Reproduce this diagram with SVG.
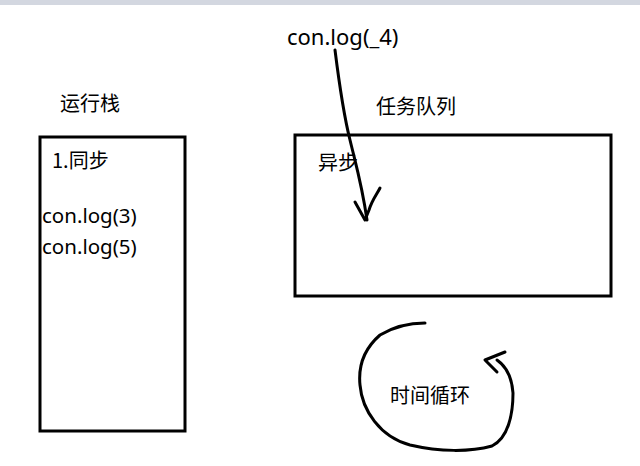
<svg xmlns="http://www.w3.org/2000/svg" width="640" height="466" viewBox="0 0 640 466">
<style>
.box{fill:none;stroke:#000;stroke-width:3}
.ink{fill:none;stroke:#000;stroke-width:3;stroke-linecap:round;stroke-linejoin:round}
text{font-family:"Microsoft YaHei","Noto Sans CJK SC","Liberation Sans",sans-serif;font-size:20px;fill:#000}
text.lat{font-family:"Noto Sans","Noto Sans CJK SC",sans-serif;font-size:20.5px}
</style>
<rect x="0" y="0" width="640" height="466" fill="#fff"/>
<rect x="0" y="0" width="640" height="5" fill="#d3d7e0"/>
<g id="stack">
<rect class="box" x="40" y="137" width="145" height="294"/>
<text x="60" y="111">运行栈</text>
<text x="52" y="168">1.同步</text>
<text class="lat" x="42" y="223">con.log(3)</text>
<text class="lat" x="42" y="254">con.log(5)</text>
</g>
<g id="queue">
<rect class="box" x="295" y="135" width="316" height="161"/>
<text x="376" y="114">任务队列</text>
<text x="318" y="170">异步</text>
</g>
<g id="log4">
<text class="lat" x="287" y="45" style="font-size:22px">con.log(_4)</text>
</g>
<g id="loop">
<text x="390" y="403">时间循环</text>
</g>
<g id="connectors">
<path class="ink" d="M335 50 C340 90 345 120 350 140 C356 165 362 185 367 220"/>
<path class="ink" d="M355 202 L365 220 L369 210 C372 200 377 194 380 188"/>
<path class="ink" d="M425 323 C408 323 395 326 380 335 C365 348 358 365 360 385 C362 410 380 437 410 445 C440 452 470 452 492 446 C508 438 513 415 513 393 C512 378 507 367 497 360"/>
<path class="ink" d="M505 352 L485 360 L497 372"/>
</g>
</svg>
